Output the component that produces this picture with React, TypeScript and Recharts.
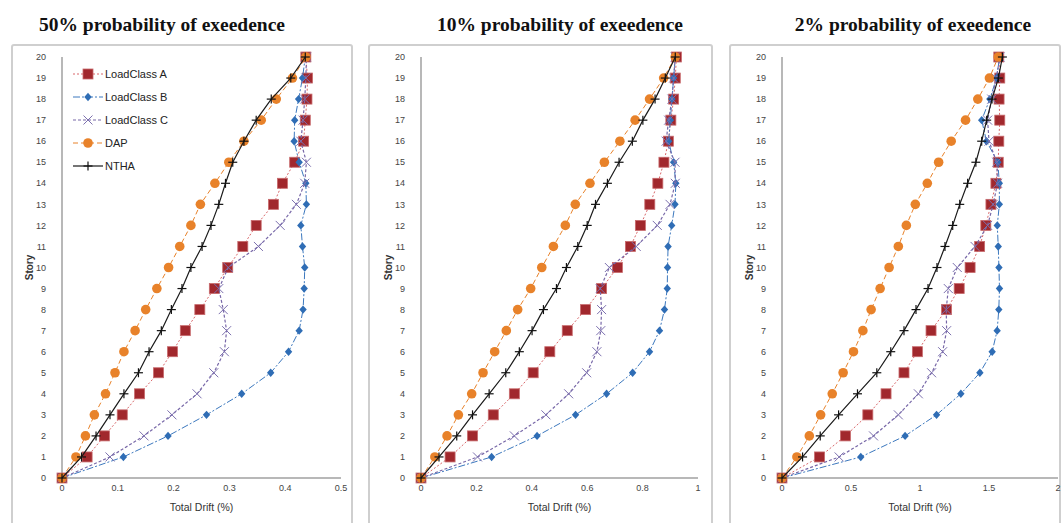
import React from "react";
import { ScatterChart, Scatter, XAxis, YAxis, Legend } from "recharts";

// story levels shared by every panel
const stories = [0, 1, 2, 3, 4, 5, 6, 7, 8, 9, 10, 11, 12, 13, 14, 15, 16, 17, 18, 19, 20];

// 50% probability of exceedence
const drift50A = [0, 0.045, 0.076, 0.108, 0.139, 0.173, 0.198, 0.221, 0.247, 0.273, 0.297, 0.324, 0.348, 0.379, 0.395, 0.417, 0.433, 0.436, 0.439, 0.44, 0.437];
const drift50B = [0, 0.11, 0.19, 0.259, 0.322, 0.374, 0.406, 0.425, 0.432, 0.434, 0.435, 0.431, 0.428, 0.438, 0.437, 0.425, 0.416, 0.417, 0.424, 0.431, 0.436];
const drift50C = [0, 0.086, 0.147, 0.197, 0.242, 0.272, 0.291, 0.295, 0.289, 0.281, 0.298, 0.352, 0.391, 0.42, 0.435, 0.438, 0.428, 0.432, 0.435, 0.437, 0.438];
const drift50DAP = [0, 0.025, 0.042, 0.058, 0.078, 0.095, 0.111, 0.131, 0.15, 0.17, 0.191, 0.211, 0.231, 0.248, 0.274, 0.299, 0.326, 0.357, 0.384, 0.413, 0.437];
const drift50NTHA = [0, 0.035, 0.061, 0.086, 0.111, 0.137, 0.156, 0.178, 0.196, 0.215, 0.231, 0.251, 0.267, 0.281, 0.293, 0.306, 0.326, 0.348, 0.375, 0.41, 0.436];

// 10% probability of exceedence
const drift10A = [0, 0.105, 0.186, 0.261, 0.337, 0.405, 0.465, 0.528, 0.594, 0.652, 0.709, 0.756, 0.792, 0.826, 0.855, 0.877, 0.893, 0.902, 0.912, 0.918, 0.922];
const drift10B = [0, 0.255, 0.419, 0.558, 0.67, 0.764, 0.825, 0.861, 0.879, 0.889, 0.89, 0.892, 0.905, 0.917, 0.92, 0.912, 0.894, 0.9, 0.906, 0.912, 0.918];
const drift10C = [0, 0.204, 0.337, 0.451, 0.533, 0.598, 0.635, 0.649, 0.652, 0.647, 0.68, 0.777, 0.853, 0.899, 0.918, 0.917, 0.885, 0.894, 0.906, 0.912, 0.918];
const drift10DAP = [0, 0.05, 0.094, 0.135, 0.183, 0.224, 0.266, 0.308, 0.349, 0.396, 0.436, 0.478, 0.521, 0.557, 0.61, 0.662, 0.718, 0.773, 0.825, 0.876, 0.918];
const drift10NTHA = [0, 0.065, 0.129, 0.186, 0.246, 0.306, 0.355, 0.401, 0.442, 0.489, 0.525, 0.566, 0.6, 0.63, 0.673, 0.715, 0.763, 0.801, 0.845, 0.882, 0.918];

// 2% probability of exceedence
const drift2A = [0, 0.272, 0.46, 0.622, 0.754, 0.884, 0.981, 1.08, 1.192, 1.284, 1.363, 1.432, 1.477, 1.514, 1.55, 1.567, 1.571, 1.578, 1.573, 1.578, 1.571];
const drift2B = [0, 0.571, 0.892, 1.12, 1.296, 1.434, 1.523, 1.559, 1.571, 1.576, 1.572, 1.567, 1.56, 1.575, 1.575, 1.564, 1.482, 1.447, 1.506, 1.555, 1.577];
const drift2C = [0, 0.414, 0.663, 0.843, 0.988, 1.084, 1.164, 1.193, 1.19, 1.205, 1.27, 1.399, 1.49, 1.53, 1.562, 1.556, 1.5, 1.49, 1.52, 1.552, 1.58];
const drift2DAP = [0, 0.108, 0.198, 0.28, 0.364, 0.443, 0.518, 0.586, 0.646, 0.711, 0.776, 0.843, 0.901, 0.966, 1.053, 1.135, 1.226, 1.33, 1.419, 1.503, 1.567];
const drift2NTHA = [0, 0.149, 0.277, 0.41, 0.547, 0.687, 0.788, 0.884, 0.971, 1.058, 1.123, 1.181, 1.237, 1.288, 1.345, 1.405, 1.447, 1.483, 1.522, 1.568, 1.597];

const seriesNames = ["LoadClass A", "LoadClass B", "LoadClass C", "DAP", "NTHA"];
const ticks50 = [0, 0.1, 0.2, 0.3, 0.4, 0.5];
const ticks10 = [0, 0.2, 0.4, 0.6, 0.8, 1];
const ticks2 = [0, 0.5, 1, 1.5, 2];

const toPoints = (xs: number[]) => xs.map((x, i) => ({ drift: x, story: stories[i] }));

const Square = ({ cx, cy }: any) => (
  <rect x={cx - 5} y={cy - 5} width={10} height={10} fill="#A1282D" stroke="#C86A6D" strokeWidth={0.8} />
);
const Diamond = ({ cx, cy }: any) => (
  <path d={`M${cx},${cy - 4.2} L${cx + 3.7},${cy} L${cx},${cy + 4.2} L${cx - 3.7},${cy} Z`} fill="#2F6DB5" />
);
const XMark = ({ cx, cy }: any) => (
  <g stroke="#7C70AE" strokeWidth={1}>
    <line x1={cx - 4.5} y1={cy - 4.5} x2={cx + 4.5} y2={cy + 4.5} />
    <line x1={cx - 4.5} y1={cy + 4.5} x2={cx + 4.5} y2={cy - 4.5} />
  </g>
);
const Dot = ({ cx, cy }: any) => <circle cx={cx} cy={cy} r={4.8} fill="#E8822A" />;
const Plus = ({ cx, cy }: any) => (
  <g stroke="#111" strokeWidth={1.2}>
    <line x1={cx - 4.5} y1={cy} x2={cx + 4.5} y2={cy} />
    <line x1={cx} y1={cy - 4.5} x2={cx} y2={cy + 4.5} />
  </g>
);

const styles = [
  { stroke: "#D9676A", dash: "2 2", width: 1, Shape: Square },
  { stroke: "#3C78BE", dash: "7 2 2 2", width: 1, Shape: Diamond },
  { stroke: "#7868A8", dash: "3 2", width: 1.2, Shape: XMark },
  { stroke: "#E8822A", dash: "5 3", width: 1, Shape: Dot },
  { stroke: "#1A1A1A", dash: undefined, width: 1.2, Shape: Plus },
];

const tickStyle = { fontSize: 9, fill: "#444", fontFamily: "Liberation Sans, Arial, sans-serif" };

const LegendBox = () => (
  <div style={{ fontFamily: "Liberation Sans, Arial, sans-serif", fontSize: 11, color: "#222" }}>
    {seriesNames.map((name, i) => {
      const s = styles[i];
      const Shape = s.Shape;
      return (
        <div key={name} style={{ display: "flex", alignItems: "center", height: 23 }}>
          <svg width={31} height={14} style={{ display: "block" }}>
            <line x1={0} y1={7} x2={30} y2={7} stroke={s.stroke} strokeWidth={s.width} strokeDasharray={s.dash} />
            <Shape cx={15} cy={7} />
          </svg>
          <span style={{ marginLeft: 1 }}>{name}</span>
        </div>
      );
    })}
  </div>
);

interface PanelProps {
  title: string;
  titleX: number;
  left: number;
  width: number;
  marginLeft: number;
  marginRight: number;
  xMax: number;
  xTicks: number[];
  series: number[][];
  showLegend?: boolean;
}

const Panel: React.FC<PanelProps> = ({ title, titleX, left, width, marginLeft, marginRight, xMax, xTicks, series, showLegend }) => (
  <>
    <div
      style={{
        position: "absolute",
        left: titleX - 160,
        width: 320,
        top: 14,
        textAlign: "center",
        fontFamily: "Liberation Serif, Times New Roman, serif",
        fontWeight: "bold",
        fontSize: 19.5,
        color: "#111",
      }}
    >
      {title}
    </div>
    <div
      style={{
        position: "absolute",
        left,
        top: 44,
        width,
        height: 490,
        border: "2px solid #cfcfcf",
        borderRadius: 3,
        boxSizing: "border-box",
      }}
    />
    <div style={{ position: "absolute", left, top: 44 }}>
      <ScatterChart width={width} height={479} margin={{ top: 13, right: marginRight, bottom: 5, left: marginLeft }}>
        <XAxis
          type="number"
          dataKey="drift"
          domain={[0, xMax]}
          ticks={xTicks}
          height={40}
          tickSize={0}
          tickMargin={7}
          tick={tickStyle}
          axisLine={{ stroke: "#a0a0a0", strokeWidth: 1.5 }}
          tickLine={false}
          label={(p: any) => (
            <text
              x={p.viewBox.x + p.viewBox.width / 2}
              y={p.viewBox.y + 33}
              textAnchor="middle"
              fontSize={10.5}
              fill="#333"
              fontFamily="Liberation Sans, Arial, sans-serif"
            >
              Total Drift (%)
            </text>
          )}
        />
        <YAxis
          type="number"
          dataKey="story"
          domain={[0, 20]}
          ticks={stories}
          interval={0}
          width={40}
          tickSize={0}
          tickMargin={16}
          tick={tickStyle}
          axisLine={{ stroke: "#a0a0a0", strokeWidth: 1.5 }}
          tickLine={false}
          label={(p: any) => {
            const x = p.viewBox.x + 7;
            const y = p.viewBox.y + p.viewBox.height / 2;
            return (
              <text
                x={x}
                y={y}
                transform={`rotate(-90 ${x} ${y})`}
                textAnchor="middle"
                dominantBaseline="central"
                fontSize={10}
                fontWeight="bold"
                fill="#333"
                fontFamily="Liberation Sans, Arial, sans-serif"
              >
                Story
              </text>
            );
          }}
        />
        {series.map((xs, i) => {
          const s = styles[i];
          const Shape = s.Shape;
          return (
            <Scatter
              key={seriesNames[i]}
              name={seriesNames[i]}
              data={toPoints(xs)}
              isAnimationActive={false}
              line={{ stroke: s.stroke, strokeWidth: s.width, strokeDasharray: s.dash, fill: "none" }}
              lineType="joint"
              shape={(p: any) => <Shape cx={p.cx} cy={p.cy} />}
            />
          );
        })}
        {showLegend && (
          <Legend
            layout="vertical"
            align="center"
            verticalAlign="middle"
            content={() => <LegendBox />}
            wrapperStyle={{ left: 62, top: 18, width: 130 }}
          />
        )}
      </ScatterChart>
    </div>
  </>
);

export default function App() {
  return (
    <div style={{ position: "absolute", left: 0, top: 0, width: 1061, height: 523, overflow: "hidden", background: "#fff" }}>
      <Panel
        title="50% probability of exeedence"
        titleX={162}
        left={11}
        width={342}
        marginLeft={11}
        marginRight={12}
        xMax={0.5}
        xTicks={ticks50}
        series={[drift50A, drift50B, drift50C, drift50DAP, drift50NTHA]}
        showLegend
      />
      <Panel
        title="10% probability of exeedence"
        titleX={560}
        left={368}
        width={345}
        marginLeft={13}
        marginRight={15}
        xMax={1}
        xTicks={ticks10}
        series={[drift10A, drift10B, drift10C, drift10DAP, drift10NTHA]}
      />
      <Panel
        title="2% probability of exeedence"
        titleX={913}
        left={729}
        width={332}
        marginLeft={13}
        marginRight={3}
        xMax={2}
        xTicks={ticks2}
        series={[drift2A, drift2B, drift2C, drift2DAP, drift2NTHA]}
      />
    </div>
  );
}
